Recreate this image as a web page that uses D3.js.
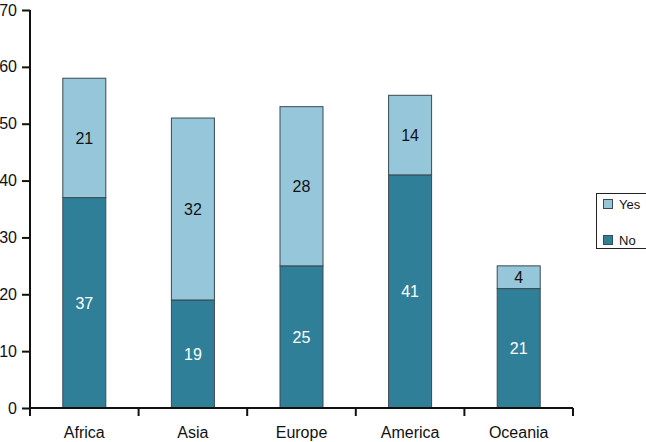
<!DOCTYPE html>
<html><head><meta charset="utf-8">
<script src="https://cdn.jsdelivr.net/npm/d3@7"></script>
<style>body{margin:0;background:#fff}svg{display:block}text{font-family:"Liberation Sans",Arial,sans-serif}</style>
</head><body><svg id="c" width="646" height="442"></svg>
<script>
const categories = ["Africa","Asia","Europe","America","Oceania"];
const noValues = [37,19,25,41,21];
const yesValues = [21,32,28,14,4];
const yTicks = [0,10,20,30,40,50,60,70];
const seriesNames = ["No","Yes"];
const colors = {No:"#2f7f98", Yes:"#96c6da"};

const svg = d3.select("#c");
const x = d3.scaleBand().domain(categories).range([30,573]).paddingInner(0.6).paddingOuter(0.3);
const xb = d3.scaleBand().domain(categories).range([30,573]);
const y = d3.scaleLinear().domain([0,70]).range([408,10]);

const data = categories.map((c,i)=>({cat:c, No:noValues[i], Yes:yesValues[i]}));
const stack = d3.stack().keys(seriesNames)(data);

const g = svg.append("g");
stack.forEach(s=>{
  g.selectAll(null).data(s).join("rect")
    .attr("x", d=>xb(d.data.cat)+xb.bandwidth()/2-21.5)
    .attr("width", 43)
    .attr("y", d=>y(d[1]))
    .attr("height", d=>y(d[0])-y(d[1]))
    .attr("fill", colors[s.key])
    .attr("stroke","#3a4a50").attr("stroke-width",1);
  g.selectAll(null).data(s).join("text")
    .attr("x", d=>xb(d.data.cat)+xb.bandwidth()/2)
    .attr("y", d=>(y(d[0])+y(d[1]))/2+6)
    .attr("text-anchor","middle")
    .attr("font-size",16)
    .attr("fill", s.key==="No"?"#fff":"#111")
    .text(d=>d.data[s.key]);
});

// y axis
const ya = svg.append("g").attr("transform","translate(30,0)")
  .call(d3.axisLeft(y).tickValues(yTicks).tickSize(8).tickPadding(5).tickFormat(d3.format("d")));
ya.select(".domain").attr("stroke","#111").attr("stroke-width",2).attr("d","M0,10V408");
ya.selectAll(".tick line").attr("stroke","#111").attr("stroke-width",2);
ya.selectAll(".tick text").attr("font-size",16).attr("fill","#111").attr("font-family","Liberation Sans, Arial, sans-serif");

// x axis
const xa = svg.append("g").attr("transform","translate(0,408)");
xa.append("line").attr("x1",30).attr("x2",573).attr("stroke","#111").attr("stroke-width",2);
const bounds = categories.map(c=>xb(c)).concat([xb(categories[categories.length-1])+xb.bandwidth()]);
xa.selectAll(null).data(bounds).join("line")
  .attr("x1",d=>d).attr("x2",d=>d).attr("y1",0).attr("y2",8)
  .attr("stroke","#111").attr("stroke-width",2);
xa.selectAll(null).data(categories).join("text")
  .attr("x",d=>xb(d)+xb.bandwidth()/2).attr("y",30)
  .attr("text-anchor","middle").attr("font-size",16).attr("fill","#111").text(d=>d);

// legend
const lg = svg.append("g");
lg.append("rect").attr("x",596.5).attr("y",193.5).attr("width",60).attr("height",55)
  .attr("fill","#fff").attr("stroke","#222").attr("stroke-width",1);
const items = ["Yes","No"];
items.forEach((k,i)=>{
  lg.append("rect").attr("x",603.5).attr("y",199.5+i*36).attr("width",9).attr("height",9)
    .attr("fill",colors[k]).attr("stroke","#3a4a50");
  lg.append("text").attr("x",619).attr("y",209+i*36).attr("font-size",13).attr("fill","#111").text(k);
});
</script></body></html>
